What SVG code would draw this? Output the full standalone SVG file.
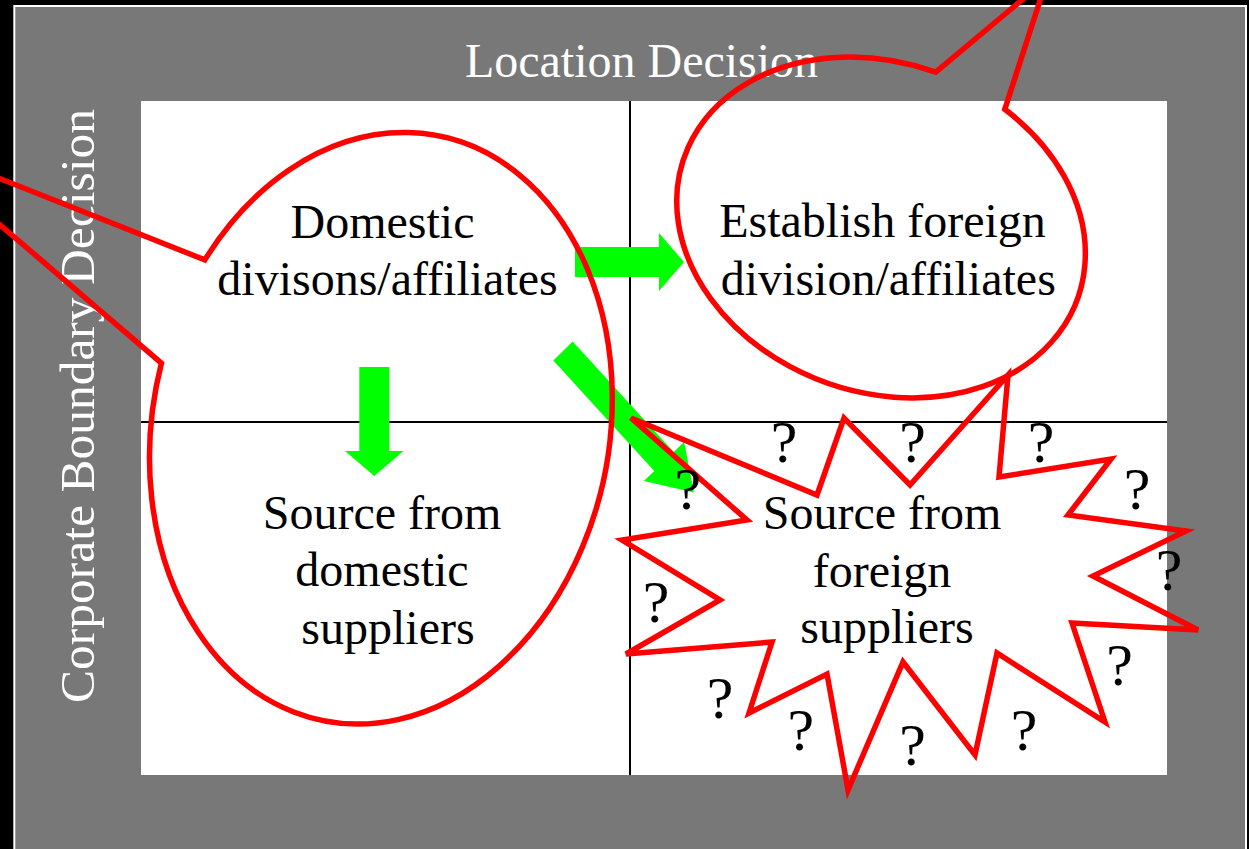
<svg xmlns="http://www.w3.org/2000/svg" width="1249" height="849" viewBox="0 0 1249 849">
  <style>
    .axis { font-family: "Liberation Serif", "Times New Roman", serif; font-size: 48px; fill: #ffffff; }
    .label { font-family: "Liberation Serif", "Times New Roman", serif; font-size: 48px; fill: #000000; text-anchor: middle; }
    .q { font-family: "Liberation Serif", "Times New Roman", serif; font-size: 60px; fill: #000000; text-anchor: middle; }
    .grid { stroke: #000000; stroke-width: 2; fill: none; }
    .callout { fill: none; stroke: #ff0000; stroke-width: 5.5; stroke-linejoin: miter; }
    .flow { fill: #00ff00; stroke: none; }
  </style>

  <!-- frame -->
  <g id="frame">
    <rect x="0" y="0" width="1249" height="849" fill="#000000"/>
    <rect x="14.3" y="6" width="1231.7" height="870" fill="#787878" stroke="#ffffff" stroke-width="2"/>
    <rect x="141" y="101" width="1026" height="674" fill="#ffffff"/>
    <text class="axis" x="641.5" y="77" text-anchor="middle">Location Decision</text>
    <text class="axis" transform="translate(94,406) rotate(-90)" text-anchor="middle" style="font-size:49.5px">Corporate Boundary Decision</text>
  </g>

  <!-- quadrant dividers -->
  <g id="quadrants">
    <line class="grid" x1="630" y1="101" x2="630" y2="775"/>
    <line class="grid" x1="141" y1="422" x2="1167" y2="422"/>
  </g>

  <!-- connectors -->
  <g id="connectors">
    <polygon class="flow" points="575,247 659,247 659,233 684,262 659,291 659,277 575,277"/>
    <polygon class="flow" points="359.3,367 389.3,367 389.3,451 403.5,451 374.3,476 345,451 359.3,451"/>
    <polygon class="flow" points="572.7,341.6 673.7,452.1 684.1,442 694,492.4 643.9,481 654.3,470.9 553.3,360.4"/>
  </g>

  <!-- quadrant nodes -->
  <g id="domestic-affiliates">
    <path class="callout" d="M 161.4 363.2 L -100 139 L 204.8 259.9 A 228.5 298 11 1 1 161.4 363.2 Z"/>
    <text class="label" x="382.5" y="238">Domestic</text>
    <text class="label" x="387.5" y="295">divisons/affiliates</text>
  </g>

  <g id="foreign-affiliates">
    <path class="callout" d="M 935.7 72.2 L 1047 -21 L 1004.8 109.3 A 209 164.6 20 1 1 935.7 72.2 Z"/>
    <text class="label" x="882.5" y="237">Establish foreign</text>
    <text class="label" x="888.3" y="295">division/affiliates</text>
  </g>

  <g id="domestic-suppliers">
    <text class="label" x="382" y="529">Source from</text>
    <text class="label" x="382" y="586">domestic</text>
    <text class="label" x="388" y="644">suppliers</text>
  </g>

  <g id="foreign-suppliers">
    <polygon class="callout" points="631,418 817,495 844,418 910,485 1008,375 999,477 1111,459 1068,515 1186,531 1093,576 1198,630 1072,623 1105,722 997,653 975,755 903,662 848,790 827,674 749,713 772,642 626,654 720,600 622,540 747,520"/>
    <text class="label" x="882" y="529">Source from</text>
    <text class="label" x="882" y="587">foreign</text>
    <text class="label" x="887" y="643">suppliers</text>
    <g id="question-marks">
      <text class="q" x="784" y="462">?</text>
      <text class="q" x="912.5" y="462">?</text>
      <text class="q" x="1041" y="462">?</text>
      <text class="q" x="1137" y="509">?</text>
      <text class="q" x="1169" y="590">?</text>
      <text class="q" x="1119.5" y="685">?</text>
      <text class="q" x="1024" y="750">?</text>
      <text class="q" x="912.5" y="765">?</text>
      <text class="q" x="800.7" y="750">?</text>
      <text class="q" x="720" y="718">?</text>
      <text class="q" x="656" y="622">?</text>
      <text class="q" x="687.7" y="509">?</text>
    </g>
  </g>
</svg>
